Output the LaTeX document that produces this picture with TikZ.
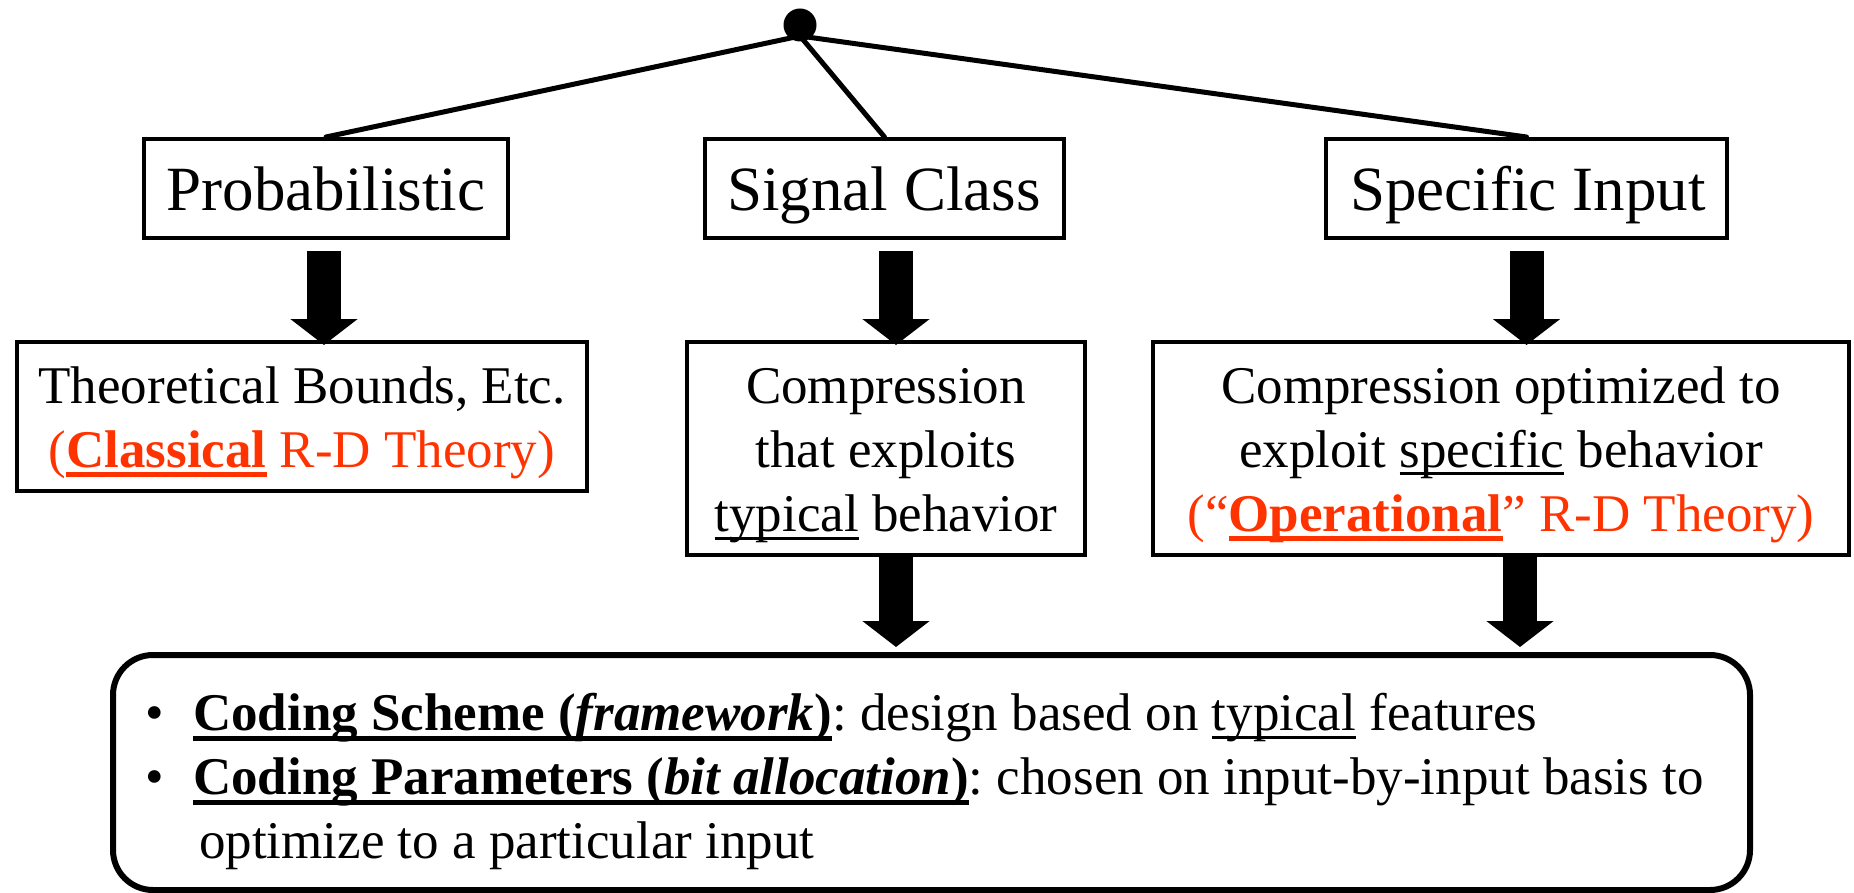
\documentclass[tikz,border=0pt]{standalone}
\usepackage{fontspec}
\setmainfont{Liberation Serif}
\usetikzlibrary{arrows.meta,calc}
\definecolor{rdred}{RGB}{255,51,0}
% underline with a rule of given drop (below baseline) and thickness
\newcommand{\ulx}[3]{\setbox0=\hbox{#3}\rlap{\raisebox{-#1}{\rule{\wd0}{#2}}}\box0\relax}
\newcommand{\ulthin}[1]{\ulx{9pt}{3pt}{#1}}
\newcommand{\ulbold}[1]{\ulx{10.5pt}{5pt}{#1}}
\newcommand{\stack}[1]{\begin{tabular}[t]{@{}c@{}}#1\end{tabular}}
\frenchspacing
\begin{document}
\begin{tikzpicture}[x=1pt,y=-1pt,
  box/.style={draw, line width=4pt, inner sep=0pt},
  lbl/.style={inner sep=0pt, anchor=base, font=\fontsize{53}{64}\selectfont},
  toplbl/.style={inner sep=0pt, anchor=base, font=\fontsize{63}{76}\selectfont},
  stem/.style={line width=5pt, line cap=round},
  blockarrow/.style={line width=34pt, -{Triangle[length=26pt,width=66pt]}},
]
\useasboundingbox (0,0) rectangle (1854,893);

% root of the tree
\node[circle, fill, inner sep=0pt, minimum size=33pt] (dot) at (800,25) {};
\coordinate (root) at (800,36);

% first level
\node[box, minimum width=364pt, minimum height=99pt] (prob) at (326,188.5) {};
\node[box, minimum width=359pt, minimum height=99pt] (sig)  at (884.5,188.5) {};
\node[box, minimum width=401pt, minimum height=99pt] (spec) at (1526.5,188.5) {};
\node[toplbl] (probt) at (326,211) {Probabilistic};
\node[toplbl] (sigt)  at (884,211) {Signal Class};
\node[toplbl] (spect) at (1528,211) {Specific Input};

\draw[stem] (root) -- (prob.north);
\draw[stem] (root) -- (sig.north);
\draw[stem] (root) -- (spec.north);

% second level
\node[box, minimum width=570pt, minimum height=149pt] (theo) at (302,416.5) {};
\node[box, minimum width=398pt, minimum height=213pt] (comp) at (886,448.5) {};
\node[box, minimum width=696pt, minimum height=213pt] (oper) at (1501,448.5) {};

\node[lbl] (theot) at (302,403) {\stack{Theoretical Bounds, Etc.\\
  \textcolor{rdred}{(\textbf{\ulx{10pt}{5pt}{Classical}} R-D Theory)}}};
\node[lbl] (compt) at (886,403) {\stack{Compression\\ that exploits\\
  \ulthin{typical} behavior}};
\node[lbl] (opert) at (1501,403) {\stack{Compression optimized to\\
  exploit \ulx{8pt}{3pt}{specific} behavior\\
  \textcolor{rdred}{(“\textbf{\ulx{10pt}{5pt}{Operational}}” R-D Theory)}}};

% block arrows between levels
\coordinate (a1) at ($(prob.south)+(-2,11)$);
\coordinate (a2) at ($(sig.south)+(11.5,11)$);
\coordinate (a3) at ($(spec.south)+(0,11)$);
\draw[blockarrow] (a1) -- ($(a1 |- theo.north)+(0,5)$);
\draw[blockarrow] (a2) -- ($(a2 |- comp.north)+(0,5)$);
\draw[blockarrow] (a3) -- ($(a3 |- oper.north)+(0,5)$);

% summary box
\node[draw, line width=6pt, rounded corners=40pt, inner sep=0pt,
      minimum width=1637pt, minimum height=235pt] (scheme) at (931.5,772.5) {};

\coordinate (a4) at ($(comp.south)+(10,-2)$);
\coordinate (a5) at ($(oper.south)+(19,-2)$);
\draw[blockarrow] (a4) -- ($(a4 |- scheme.north)+(0,-5)$);
\draw[blockarrow] (a5) -- ($(a5 |- scheme.north)+(0,-5)$);

\node[lbl] (bul1) at (155,730) {\textbullet};
\node[lbl] (bul2) at (155,794) {\textbullet};
\node[lbl, anchor=base west] (line1) at (193,730)
  {\textbf{\ulbold{Coding Scheme (\textit{framework})}}: design based on \ulthin{typical} features};
\node[lbl, anchor=base west] (line2) at (193,794)
  {\textbf{\ulbold{Coding Parameters (\textit{bit allocation})}}: chosen on input-by-input basis to};
\node[lbl, anchor=base west] (line3) at (199,858) {optimize to a particular input};
\end{tikzpicture}
\end{document}
